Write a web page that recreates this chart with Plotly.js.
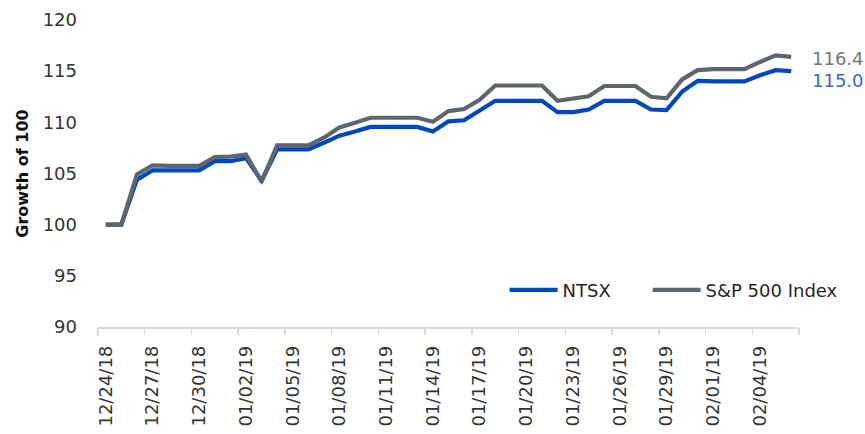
<!DOCTYPE html>
<html>
<head>
<meta charset="utf-8">
<script src="https://cdn.plot.ly/plotly-3.0.1.min.js"></script>
<style>html,body{margin:0;padding:0;background:#fff;}#chart{width:865px;height:434px;}</style>
</head>
<body>
<div id="chart"></div>
<script>
const dates = ["12/24/18","12/25/18","12/26/18","12/27/18","12/28/18","12/29/18","12/30/18","12/31/18",
  "01/01/19","01/02/19","01/03/19","01/04/19","01/05/19","01/06/19","01/07/19","01/08/19","01/09/19",
  "01/10/19","01/11/19","01/12/19","01/13/19","01/14/19","01/15/19","01/16/19","01/17/19","01/18/19",
  "01/19/19","01/20/19","01/21/19","01/22/19","01/23/19","01/24/19","01/25/19","01/26/19","01/27/19",
  "01/28/19","01/29/19","01/30/19","01/31/19","02/01/19","02/02/19","02/03/19","02/04/19","02/05/19","02/06/19"];
const ntsx = [100,100,104.4,105.3,105.3,105.3,105.3,106.2,106.2,106.5,104.3,107.35,107.35,107.35,108.0,108.7,109.1,
  109.55,109.55,109.55,109.55,109.1,110.1,110.2,111.1,112.1,112.1,112.1,112.1,111.0,111.0,111.25,112.1,112.1,112.1,
  111.25,111.2,113.0,114.05,114.0,114.0,114.0,114.6,115.1,115.0];
const sp500 = [100,100,104.9,105.8,105.75,105.75,105.75,106.6,106.65,106.85,104.2,107.75,107.75,107.75,108.5,109.5,109.95,
  110.45,110.45,110.45,110.45,110.05,111.1,111.3,112.2,113.6,113.6,113.6,113.6,112.1,112.35,112.55,113.55,113.55,113.55,
  112.5,112.35,114.2,115.1,115.2,115.2,115.2,115.9,116.55,116.4];
const seriesNames = ["NTSX","S&P 500 Index"];
const yTicks = [90,95,100,105,110,115,120];

const blue = "#0047bf", gray = "#5d666e";
const n = dates.length;
const bounds = [];
for (let i = 0; i < n; i += 3) bounds.push(i - 0.5);
bounds.push(n - 0.5);

const traces = [
  {x: dates, y: ntsx, name: seriesNames[0], type: "scatter", mode: "lines",
   line: {color: blue, width: 4.2}, legend: "legend"},
  {x: dates, y: sp500, name: seriesNames[1], type: "scatter", mode: "lines",
   line: {color: gray, width: 4.2}, legend: "legend2"},
  {x: [bounds[0]], y: [90], xaxis: "x2", yaxis: "y", type: "scatter", mode: "none",
   showlegend: false, hoverinfo: "skip"}
];
const font = "DejaVu Sans, sans-serif";
const legendBase = {orientation: "h", xanchor: "left", y: 0.12, yanchor: "middle",
  font: {family: font, size: 18, color: "#262626"}, itemwidth: 48, bgcolor: "rgba(0,0,0,0)"};
const layout = {
  width: 865, height: 434,
  margin: {l: 98, r: 66, t: 20, b: 107},
  paper_bgcolor: "#fff", plot_bgcolor: "#fff",
  font: {family: font, size: 18, color: "#333"},
  showlegend: true,
  legend: Object.assign({}, legendBase, {x: 0.58}),
  legend2: Object.assign({}, legendBase, {x: 0.784}),
  xaxis: {type: "category", range: [-0.5, n - 0.5], tickmode: "linear", tick0: 0, dtick: 3,
    ticks: "", tickangle: -90, showline: true, linecolor: "#d9d9d9", linewidth: 1.5,
    showgrid: false, zeroline: false, ticklabelstandoff: 10,
    tickfont: {family: font, size: 18, color: "#333"}},
  xaxis2: {type: "linear", overlaying: "x", anchor: "y", side: "bottom", range: [-0.5, n - 0.5],
    tickmode: "array", tickvals: bounds, showticklabels: false, ticks: "outside", ticklen: 7,
    tickcolor: "#d9d9d9", tickwidth: 1.5, showgrid: false, zeroline: false, showline: false},
  yaxis: {range: [90, 120], tickmode: "array", tickvals: yTicks, ticks: "", showline: false,
    showgrid: false, zeroline: false, ticklabelstandoff: 20,
    tickfont: {family: font, size: 18, color: "#333"},
    title: {text: "<b>Growth of 100</b>", font: {family: font, size: 16, color: "#111"}, standoff: 10}},
  annotations: [
    {x: dates[n - 1], y: sp500[n - 1], xref: "x", yref: "y", text: sp500[n - 1].toFixed(1),
     showarrow: false, xanchor: "left", yanchor: "middle", xshift: 19, yshift: -2,
     font: {family: font, size: 18, color: "#6e757c"}},
    {x: dates[n - 1], y: ntsx[n - 1], xref: "x", yref: "y", text: ntsx[n - 1].toFixed(1),
     showarrow: false, xanchor: "left", yanchor: "middle", xshift: 19, yshift: -9,
     font: {family: font, size: 18, color: "#2f6bd6"}}
  ]
};
Plotly.newPlot("chart", traces, layout, {displayModeBar: false, staticPlot: true});
</script>
</body>
</html>
